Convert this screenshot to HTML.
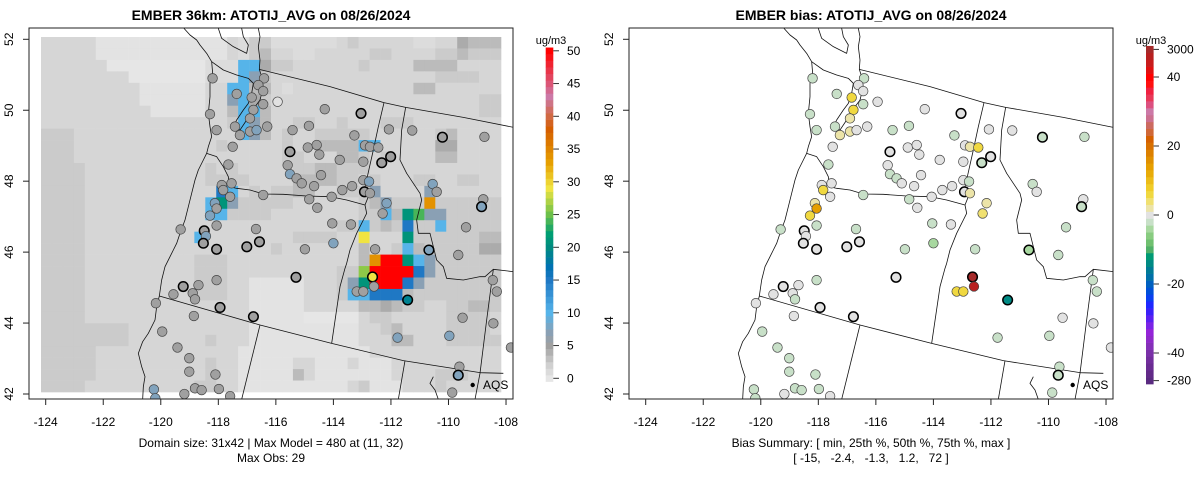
<!DOCTYPE html>
<html><head><meta charset="utf-8"><title>EMBER ATOTIJ_AVG</title>
<style>
html,body{margin:0;padding:0;background:#fff;}
svg{display:block;font-family:"Liberation Sans",Arial,sans-serif;}
</style></head>
<body>
<svg id="chart" width="1200" height="479" viewBox="0 0 1200 479" xmlns="http://www.w3.org/2000/svg">
<defs>
<clipPath id="clipL"><rect x="29" y="28" width="484" height="371"/></clipPath>
<clipPath id="clipR"><rect x="629" y="28" width="484" height="371"/></clipPath>
<g id="geo" fill="none" stroke="#111" stroke-width="0.8" stroke-linejoin="round">
 <g transform="translate(30,20) scale(0.33333)">
  <path vector-effect="non-scaling-stroke" d="M462,25 L480,45 L500,60 L510,75 L530,100 L545,125 L548,160 L540,190 L540,230 L535,280 L540,320 L545,350 L535,380 L530,400 L520,420 L505,450 L495,480 L485,520 L475,560 L465,600 L450,640 L440,670 L430,690 L420,710 L405,740 L395,780 L388,828 L380,860 L375,900 L355,940 L338,965 L325,1000 L335,1040 L345,1070 L340,1100 L338,1138"/>
  <path vector-effect="non-scaling-stroke" d="M545,125 L580,150 L620,165 L655,175 L670,190 L665,220 L655,250 L640,270 L620,300 L610,320 L630,330 L650,300 L668,270 L690,240 L700,200 L695,170 L688,148 L690,120 L685,80 L690,50 L685,25"/>
  <path vector-effect="non-scaling-stroke" d="M565,25 L575,55 L610,80 L650,100 L655,75 L640,50 L635,25"/>
  <path vector-effect="non-scaling-stroke" d="M530,400 L560,410 L580,440 L595,470 L598,500 L620,505 L660,510 L700,522 L760,523 L830,528 L900,530 L950,540 L1005,555"/>
  <path vector-effect="non-scaling-stroke" d="M1005,555 L1015,530 L1005,500 L1012,470 L1030,390 L1045,320 L1062,248"/>
  <path vector-effect="non-scaling-stroke" d="M688,148 L900,200 L1062,248 L1127,262 L1300,292 L1450,322"/>
  <path vector-effect="non-scaling-stroke" d="M1127,262 L1115,330 L1110,420 L1130,460 L1170,520 L1175,540 L1160,600 L1165,640 L1200,640 L1210,680 L1220,720 L1240,740 L1250,775 L1300,780 L1350,770 L1365,770 L1390,748 L1450,755"/>
  <path vector-effect="non-scaling-stroke" d="M1390,748 L1370,900 L1350,1060 L1335,1138"/>
  <path vector-effect="non-scaling-stroke" d="M1005,555 L1010,580 L1000,600 L980,640 L960,690 L950,730 L945,745 L930,800 L905,970"/>
  <path vector-effect="non-scaling-stroke" d="M388,828 L690,915 L905,970 L1120,1022 L1350,1058 L1420,1060"/>
  <path vector-effect="non-scaling-stroke" d="M690,915 L635,1138"/>
  <path vector-effect="non-scaling-stroke" d="M1125,1022 L1105,1138"/>
  <path vector-effect="non-scaling-stroke" d="M1210,1070 L1200,1090 L1215,1110 L1225,1138"/>
 </g>
</g>
</defs>
<g id="left-panel">
 <g id="gridL" clip-path="url(#clipL)"></g>
 <use href="#geo" clip-path="url(#clipL)"/>
 <g id="ptsL" clip-path="url(#clipL)"></g>
 <rect x="29" y="28" width="484" height="371" fill="none" stroke="#222" stroke-width="1"/>
 <text x="271" y="20" text-anchor="middle" font-weight="bold" font-size="14">EMBER 36km: ATOTIJ_AVG on 08/26/2024</text>
 <text x="271" y="447" text-anchor="middle" font-size="12">Domain size: 31x42 | Max Model = 480 at (11, 32)</text>
 <text x="271" y="462" text-anchor="middle" font-size="12">Max Obs: 29</text>
 <circle cx="472.7" cy="385" r="2.2" fill="#000"/>
 <text x="483" y="389" font-size="12">AQS</text>
 <g id="axesL"></g>
 <g id="cbarL"></g>
</g>
<g id="right-panel">
 <use href="#geo" transform="translate(600,0)"/>
 <g id="ptsR" clip-path="url(#clipR)"></g>
 <rect x="629" y="28" width="484" height="371" fill="none" stroke="#222" stroke-width="1"/>
 <text x="871" y="20" text-anchor="middle" font-weight="bold" font-size="14">EMBER bias: ATOTIJ_AVG on 08/26/2024</text>
 <text x="871" y="447" text-anchor="middle" font-size="12">Bias Summary: [ min, 25th %, 50th %, 75th %, max ]</text>
 <text x="871" y="462" text-anchor="middle" font-size="12" xml:space="preserve">[ -15,   -2.4,   -1.3,   1.2,   72 ]</text>
 <circle cx="1072.7" cy="385" r="2.2" fill="#000"/>
 <text x="1083" y="389" font-size="12">AQS</text>
 <g id="axesR"></g>
 <g id="cbarR"></g>
</g>
</svg>
<script>
// ---------- data ----------
const lonTicks = [-124,-122,-120,-118,-116,-114,-112,-110,-108];
const latTicks = [42,44,46,48,50,52];
const modelTicks = [0,5,10,15,20,25,30,35,40,45,50];
const biasTickLabels = ["3000","40","20","0","-20","-40","-280"];
const biasTickSteps = [24,20,10,0,-10,-20,-24];
// model grid (rows north->south, 42 columns), char code -> ug/m3 via gridLevel
const gridLevel = {"0":0,"1":0.3,"2":0.9,"3":1.45,"4":2.3,"5":3.3,"6":4.3,"8":7,"a":10,"c":15,"d":21,"e":24,"f":26,"g":29,"h":34,"R":50};
const gridRows = [
"33333"+"111111111111"+"3244"+"222222"+"34"+"33333"+"22"+"33"+"6"+"555",
"33333"+"111111111111"+"3245"+"332233"+"33"+"34433"+"33"+"44"+"5"+"444",
"333333"+"000000000"+"22"+"2aa6"+"443333"+"33"+"43333"+"55"+"55"+"3333",
"33333333"+"0000000"+"22"+"2a84"+"333333"+"33"+"33333"+"33"+"44"+"4433",
"333333333"+"111111"+"33"+"aa55"+"323333"+"33"+"33333"+"55"+"33"+"3333",
"333333333"+"111111"+"33"+"8a64"+"333333"+"33"+"33333"+"33"+"33"+"3344",
"3333333333"+"11111"+"33"+"5aa5"+"333333"+"33"+"33333"+"33"+"33"+"3344",
"333333333333333"+"33"+"4a85"+"334433"+"43"+"33444"+"33"+"33"+"3333",
"444"+"333333333333"+"33"+"3a85"+"343344"+"44"+"43333"+"33"+"45"+"3333",
"444"+"333333333333"+"34"+"3333"+"343355"+"55"+"aa333"+"33"+"66"+"3333",
"444"+"333333333333"+"33"+"3333"+"344333"+"55"+"43433"+"33"+"55"+"3333",
"4444"+"33333333333"+"43"+"4333"+"334455"+"44"+"43333"+"33"+"33"+"3333",
"4444"+"33333333333"+"44"+"4433"+"335555"+"44"+"34333"+"44"+"33"+"4433",
"4444"+"333333333333"+"ca"+"343"+"445533"+"44"+"48333"+"38"+"33"+"3333",
"4444"+"33333333333"+"ad8"+"444"+"443333"+"33"+"45"+"8444"+"h"+"44"+"4444",
"4444"+"33333333333"+"aa4"+"444"+"333333"+"33"+"44"+"a5de"+"88"+"4"+"4444",
"4444"+"3333333333333"+"3333"+"333333"+"44"+"a454c44a4"+"4444",
"4444"+"3333333333"+"a"+"33"+"3333"+"334444"+"33"+"g333d4444"+"4455",
"4444"+"3333333333333"+"3333"+"433333"+"33"+"5334a5444"+"4466",
"4444"+"3333333333"+"444"+"3333"+"333333"+"33"+"5hRRda84"+"44444",
"4444"+"3333333333"+"444"+"3333"+"333333"+"44"+"fRRRRc84"+"44444",
"4444"+"3333333333"+"444"+"3311"+"111333"+"48"+"dRRRc844"+"44444",
"4444"+"3333333333"+"444"+"3311"+"111333"+"4a"+"accc5444"+"44444",
"4444"+"3333333333"+"333"+"3311"+"111333"+"33"+"55654433"+"44554",
"4444"+"3333333333"+"333"+"3311"+"111000"+"00"+"34433333"+"44443",
"4444"+"4444333333"+"333"+"3311"+"111111"+"11"+"33453333"+"44443",
"4444"+"4444333333"+"343"+"3311"+"111111"+"11"+"33355333"+"44444",
"4444"+"4333333333"+"333"+"3111"+"111111"+"11"+"13333333"+"33333",
"4444"+"4333333333"+"343"+"3111"+"113311"+"13"+"11133333"+"33333",
"4444"+"4333333333"+"343"+"3111"+"115311"+"11"+"11133334"+"44333",
"4444"+"3333333333"+"443"+"3111"+"111111"+"13"+"41113334"+"33333"
];
// monitoring stations
const stationLon = [-118.20,-116.41,-116.61,-116.44,-115.94,-116.84,-117.36,-116.44,-118.29,-116.78,-116.90,-117.42,-116.30,-116.90,-116.67,-117.25,-118.06,-114.30,-113.04,-115.42,-114.85,-113.27,-112.07,-111.26,-110.21,-108.75,-117.50,-115.51,-114.89,-114.58,-114.49,-112.90,-112.73,-112.44,-113.78,-112.96,-112.32,-112.01,-117.65,-115.59,-115.51,-115.28,-115.10,-114.43,-114.67,-112.96,-112.76,-113.35,-113.69,-117.88,-117.54,-117.83,-117.59,-116.44,-114.84,-114.06,-112.92,-112.73,-112.15,-112.29,-110.55,-110.41,-108.79,-108.85,-118.12,-118.06,-118.29,-114.56,-119.31,-118.06,-118.49,-118.43,-118.52,-116.69,-116.57,-117.01,-118.06,-114.04,-113.39,-109.39,-114.00,-114.99,-112.55,-110.68,-109.66,-115.30,-112.64,-112.59,-113.19,-112.96,-111.42,-108.46,-108.32,-118.06,-119.22,-118.69,-119.56,-118.89,-118.81,-120.17,-117.94,-118.85,-116.78,-109.51,-108.44,-119.95,-111.77,-109.97,-119.42,-119.01,-119.01,-118.10,-107.83,-109.62,-109.66,-120.24,-119.18,-118.81,-118.58,-117.98,-117.59,-109.87,-120.19];
const stationLat = [50.90,50.90,50.71,50.54,50.24,50.36,50.46,50.17,49.89,50.01,49.77,49.54,49.54,49.40,49.44,49.30,49.44,50.03,49.91,49.44,49.56,49.29,49.46,49.43,49.24,49.25,48.97,48.83,48.95,49.02,48.75,49.01,48.97,48.95,48.60,48.55,48.52,48.69,48.47,48.45,48.20,48.08,47.94,48.17,47.86,48.03,47.99,47.86,47.75,47.89,47.94,47.75,47.56,47.61,47.49,47.56,47.70,47.66,47.38,47.09,47.92,47.70,47.49,47.28,47.38,47.23,47.03,47.25,46.64,46.75,46.60,46.45,46.25,46.65,46.29,46.15,46.08,46.81,46.78,46.70,46.25,46.08,46.08,46.06,45.92,45.29,45.30,45.03,44.89,44.89,44.65,45.21,44.89,45.21,45.03,45.07,44.81,44.84,44.67,44.56,44.44,44.20,44.18,44.15,43.99,43.76,43.59,43.64,43.31,43.01,42.63,42.55,43.31,42.77,42.53,42.13,42.00,42.16,42.11,42.14,41.94,42.04,41.88];
const obsValue = [5,5,5,5,0.5,5,5,5,5,5,5,5,5,5,7.5,5,5,5,5,5,5,5,5,5,5,5,5,5,5,5,5,5,5,5,5,5,5,5,5,5,7.5,5,5,5,5,5,7.5,5,5,5,5,5,5,5,5,5,5,5,7.5,5,7.5,5,5,7.5,7.5,5,7.5,5,5,5,5,7.5,5,5,5,5,5,5,5,5,7.5,5,5,7.5,5,5,29,5,5,5,19,5,5,5,5,5,5,5,5,5,5,5,5,5,5,5,7.5,7.5,5,5,5,5,5,5,7.5,7.5,5,5,5,5,5,5,7.5];
const biasValue = [-2.5,-2.5,0,0,0,5,-2.5,-2,-2,5,2,-2,0,2,0,2,-2,0,0,-2,-2,-2,0,0,-2,-2,0,0,0,0,0,0,2,5,0,0,-2,0,-2,0,-2.5,-2,0,0,0,0,-1.5,0,0,0,0,5,0,-2,-2,0,0,2,2,3,-2,0,0,-2,2,14,5,0,-2,-2,0,0,0,-2,0,0,0,-2,0,-2,-5,-2,-2,-5,-2,0,72,45,5,5,-15,-2,-2,-2,0,0,0,0,-2,0,0,0,0,0,0,-3,-2,-3,-2,-2,-2,-2,0,-2,-3,-3,0,-2,-2,-2,0,-3,-3];
const thickOutline = [19,25,28,37,38,57,64,71,73,75,76,77,84,86,87,91,95,101,103,115];

// ---------- scales ----------
const NS = "http://www.w3.org/2000/svg";
function xScale(lon){ return 45.7 + (lon + 124) * 28.77; }
function yScale(lat){ return 394 - (lat - 42) * 35.47; }
const gridLonW = -124.163, gridLonE = -108.174, gridLatN = 52.065, gridLatS = 42.056;
const modelAnchors = [[0,[230,230,230]],[2,[208,208,208]],[5,[160,160,160]],[7,[138,160,180]],[10,[86,180,233]],[15,[31,120,196]],[17,[0,114,178]],[20,[0,138,128]],[22,[0,158,115]],[25,[108,192,74]],[29,[240,228,66]],[33,[230,159,0]],[38,[213,94,0]],[43,[204,121,167]],[50,[255,0,0]]];
function modelColor(v){
  if (v <= modelAnchors[0][0]) return rgb(modelAnchors[0][1]);
  for (let i=1;i<modelAnchors.length;i++){
    if (v <= modelAnchors[i][0]){
      const a=modelAnchors[i-1], b=modelAnchors[i], t=(v-a[0])/(b[0]-a[0]);
      return rgb(a[1].map((c,j)=>Math.round(c+(b[1][j]-c)*t)));
    }
  }
  return rgb(modelAnchors[modelAnchors.length-1][1]);
}
function rgb(a){ return "rgb("+a[0]+","+a[1]+","+a[2]+")"; }
const biasPalette = ["#5a2a80","#622a88","#6a2c92","#722e9c","#7a30a8","#8430b8","#8e2ac8","#9424d8","#7a24e6","#5a20f0","#3a20f8","#1e28ff","#0a40f0","#0050d8","#0060c0","#0070a8","#007a96","#008a84","#009a74","#50b068","#70c070","#88cc80","#a8d8a0","#c8e0c8","#e2e2e2","#ece4a8","#f0e070","#f0d840","#f0cc28","#ecbc18","#e8ac08","#e69f00","#e09000","#dc8000","#d87000","#d56000","#d06838","#cc6a60","#cc7090","#cc79a7","#dc5080","#e83858","#f02040","#ff1010","#ff0000","#e01010","#c81c1c","#b82020","#a52a2a"];
function biasStep(v){ return Math.max(-24, Math.min(24, Math.round(v/2))); }
function biasColor(v){ return biasPalette[biasStep(v)+24]; }
function mk(tag, attrs, parent){
  const e = document.createElementNS(NS, tag);
  for (const k in attrs) e.setAttribute(k, attrs[k]);
  parent.appendChild(e); return e;
}

// ---------- model grid ----------
const gridL = document.getElementById('gridL');
const nRows = gridRows.length, nCols = 42;
const dLon = (gridLonE-gridLonW)/nCols, dLat = (gridLatN-gridLatS)/nRows;
for (let r=0;r<nRows;r++){
  const row = (gridRows[r]+"3".repeat(nCols)).slice(0,nCols);
  for (let c=0;c<nCols;c++){
    const v = gridLevel[row[c]] !== undefined ? gridLevel[row[c]] : 1.45;
    const x0 = xScale(gridLonW + c*dLon), x1 = xScale(gridLonW + (c+1)*dLon);
    const y0 = yScale(gridLatN - r*dLat), y1 = yScale(gridLatN - (r+1)*dLat);
    const cell = mk('rect', {x:x0.toFixed(2), y:y0.toFixed(2), width:(x1-x0+0.3).toFixed(2), height:(y1-y0+0.3).toFixed(2), fill:modelColor(v)}, gridL);
    
    
  }
}

// ---------- stations ----------
function drawStations(gid, dx, colorFn, values, nm){
  const g = document.getElementById(gid);
  for (let i=0;i<stationLon.length;i++){
    const thick = thickOutline.indexOf(i+1) >= 0;
    const c = mk('circle', {cx:(xScale(stationLon[i])+dx).toFixed(2), cy:yScale(stationLat[i]).toFixed(2), r:4.8, fill:colorFn(values[i]), stroke: thick ? "#000" : "#444", "stroke-width": thick ? 1.5 : 0.7}, g);
    
    
  }
}
drawStations('ptsL', 0, modelColor, obsValue, 'obs-station');
drawStations('ptsR', 600, biasColor, biasValue, 'bias-station');

// ---------- axes ----------
function drawAxes(gid, dx){
  const g = document.getElementById(gid);
  lonTicks.forEach(function(t){
    const x = xScale(t)+dx;
    const tk = mk('line', {x1:x, x2:x, y1:399, y2:405, stroke:"#222", "stroke-width":1}, g);
    
    
    const lb = mk('text', {x:x, y:426, "text-anchor":"middle", "font-size":12}, g);
    lb.textContent = String(t);
    
    
  });
  latTicks.forEach(function(t){
    const y = yScale(t);
    const tk = mk('line', {x1:23+dx, x2:29+dx, y1:y, y2:y, stroke:"#222", "stroke-width":1}, g);
    
    
    const lb = mk('text', {x:0, y:0, "text-anchor":"middle", "font-size":12, transform:"translate("+(13+dx)+","+y+") rotate(-90)"}, g);
    lb.textContent = String(t);
    
    
  });
}
drawAxes('axesL', 0);
drawAxes('axesR', 600);

// ---------- colorbars ----------
(function(){
  const g = document.getElementById('cbarL');
  function cy(v){ return 378.3 - v*6.55; }
  for (let v=0; v<=50; v++){
    const s = mk('rect', {x:545.7, y:cy(v+0.5).toFixed(2), width:7.6, height:(6.55+0.3).toFixed(2), fill:modelColor(v)}, g);
    
    
  }
  modelTicks.forEach(function(t){
    const tk = mk('line', {x1:553.3, x2:559, y1:cy(t), y2:cy(t), stroke:"#333", "stroke-width":1}, g);
    
    
    const lb = mk('text', {x:567, y:cy(t)+4, "font-size":12}, g);
    lb.textContent = String(t);
    
    
  });
  const u = mk('text', {x:551, y:44, "text-anchor":"middle", "font-size":11}, g);
  u.textContent = "ug/m3";
  
  
})();
(function(){
  const g = document.getElementById('cbarR');
  function cy(k){ return 215 - k*6.9; }
  for (let k=-24; k<=24; k++){
    const s = mk('rect', {x:1146, y:cy(k+0.5).toFixed(2), width:7.6, height:7.2, fill:biasPalette[k+24]}, g);
    
    
  }
  biasTickSteps.forEach(function(k, i){
    const tk = mk('line', {x1:1153.6, x2:1159, y1:cy(k), y2:cy(k), stroke:"#333", "stroke-width":1}, g);
    
    
    const lb = mk('text', {x:1167, y:cy(k)+4, "font-size":12}, g);
    lb.textContent = biasTickLabels[i];
    
    
  });
  const u = mk('text', {x:1151, y:44, "text-anchor":"middle", "font-size":11}, g);
  u.textContent = "ug/m3";
  
  
})();
</script>
</body></html>
